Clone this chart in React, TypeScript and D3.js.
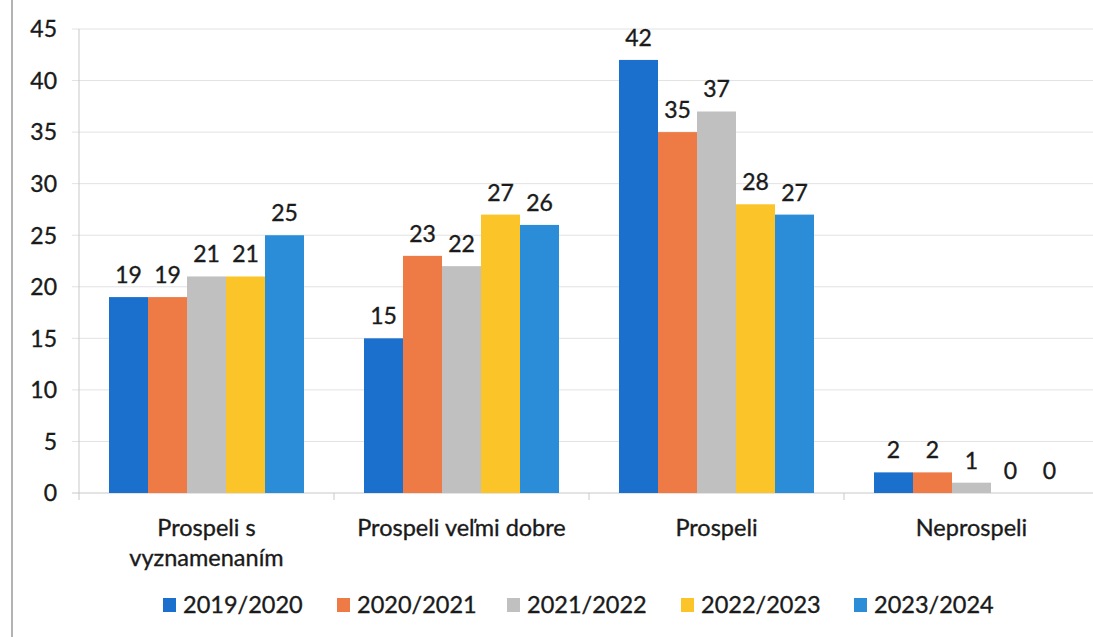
import React from "react";
import * as d3 from "d3";

const categories = ["Prospeli s\nvyznamenaním", "Prospeli veľmi dobre", "Prospeli", "Neprospeli"];
const seriesNames = ["2019/2020", "2020/2021", "2021/2022", "2022/2023", "2023/2024"];
const s2019 = [19, 15, 42, 2];
const s2020 = [19, 23, 35, 2];
const s2021 = [21, 22, 37, 1];
const s2022 = [21, 27, 28, 0];
const s2023 = [25, 26, 27, 0];
const seriesColors = ["#1b6fcd", "#ee7b45", "#c0c0c0", "#fbc52a", "#2b8dd8"];
const yTicks = [0, 5, 10, 15, 20, 25, 30, 35, 40, 45];

const W = 1093, H = 637;
const FONT = "Lato, 'Open Sans', sans-serif";
const TXT = { fontFamily: FONT, fill: "#1a1a1a", stroke: "#1a1a1a", strokeWidth: 0.35 };

export default function App() {
  const series = [s2019, s2020, s2021, s2022, s2023];
  const left = 79, right = 1099, top = 29, bottom = 493;
  const x0 = d3.scaleBand<number>().domain(d3.range(categories.length)).range([left, right]).paddingInner(60 / 255).paddingOuter(30 / 255);
  const x1 = d3.scaleBand<number>().domain(d3.range(series.length)).range([0, x0.bandwidth()]);
  const y = d3.scaleLinear().domain([0, 45]).range([bottom, top]);
  const step = (right - left) / categories.length;
  const legendX = [163, 337, 507, 681, 854];

  return (
    <svg width={W} height={H} style={{ display: "block", position: "absolute", left: 0, top: 0, background: "#fff" }}>
      <rect x={0} y={0} width={W} height={H} fill="#fff" />
      <line x1={12} x2={12} y1={0} y2={H} stroke="#9a9a9a" strokeWidth={1.5} />
      {yTicks.map((t) => (
        <g key={t}>
          <line x1={72} x2={W} y1={y(t)} y2={y(t)} stroke={t === 0 ? "#c8c8c8" : "#e2e2e2"} strokeWidth={1} />
          <text x={57} y={y(t)} dy="0.36em" textAnchor="end" fontSize={23} {...TXT}>{t}</text>
        </g>
      ))}
      <line x1={left} x2={left} y1={top} y2={bottom} stroke="#c8c8c8" />
      {d3.range(categories.length + 1).map((i) => (
        <line key={i} x1={left + i * step} x2={left + i * step} y1={bottom} y2={bottom + 7} stroke="#c8c8c8" />
      ))}
      {categories.map((c, ci) => (
        <g key={c}>
          {series.map((s, si) => {
            const bx = (x0(ci) as number) + (x1(si) as number);
            const v = s[ci];
            return (
              <g key={si}>
                <rect x={bx} y={y(v)} width={x1.bandwidth()} height={bottom - y(v)} fill={seriesColors[si]} />
                <text x={bx + x1.bandwidth() / 2} y={y(v) - 14} textAnchor="middle" fontSize={23} {...TXT}>{v}</text>
              </g>
            );
          })}
          {c.split("\n").map((ln, li) => (
            <text key={li} x={(x0(ci) as number) + x0.bandwidth() / 2} y={536 + li * 30} textAnchor="middle" fontSize={23.5} {...TXT}>{ln}</text>
          ))}
        </g>
      ))}
      {seriesNames.map((n, i) => (
        <g key={n}>
          <rect x={legendX[i]} y={598} width={13} height={14} fill={seriesColors[i]} />
          <text x={legendX[i] + 20} y={613} fontSize={23.5} {...TXT}>{n}</text>
        </g>
      ))}
    </svg>
  );
}
